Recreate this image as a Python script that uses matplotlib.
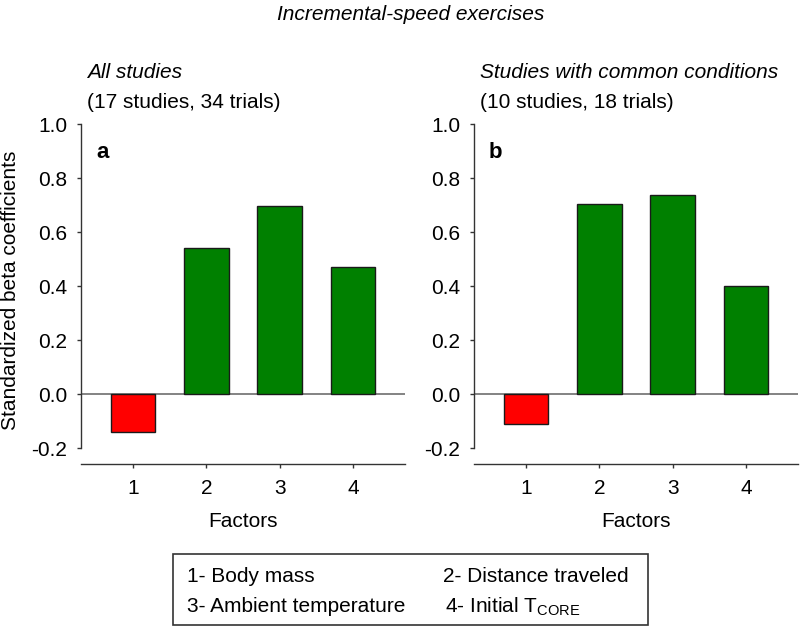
import matplotlib
matplotlib.use('Agg')
import matplotlib.pyplot as plt
from matplotlib.patches import Rectangle
from matplotlib.ticker import FormatStrFormatter

plt.rcParams['font.family'] = ['Liberation Sans', 'DejaVu Sans']
plt.rcParams['mathtext.default'] = 'regular'
plt.rcParams['axes.unicode_minus'] = False

# ---------- data ----------
factors = [1, 2, 3, 4]
beta_all = [-0.142, 0.542, 0.695, 0.471]      # all studies
beta_common = [-0.112, 0.704, 0.736, 0.401]   # studies with common conditions
bar_colors = ['#ff0000', '#008000', '#008000', '#008000']
yticks = [-0.2, 0.0, 0.2, 0.4, 0.6, 0.8, 1.0]

panels = [
    ('a', 'All studies', '(17 studies, 34 trials)', beta_all),
    ('b', 'Studies with common conditions', '(10 studies, 18 trials)', beta_common),
]
legend_items = [
    '1- Body mass', '2- Distance traveled',
    '3- Ambient temperature', r'4- Initial T$_{CORE}$',
]

W, H = 800, 627
fig = plt.figure(figsize=(W / 100, H / 100), dpi=100)

fs = 15
spine_col = '#333333'


def px(x, y):
    """pixel (top-left origin) -> figure fraction"""
    return x / W, 1 - y / H


left_px = [81, 474]
for (letter, sub1, sub2, vals), lx in zip(panels, left_px):
    ax = fig.add_axes([lx / W, (H - 448) / H, 324 / W, 324 / H])
    ax.bar(factors, vals, width=0.61, color=bar_colors,
           edgecolor='#1a1a1a', linewidth=1, zorder=3)
    ax.axhline(0, color='#6e6e6e', lw=1.2, zorder=2)
    ax.set_xlim(0.29, 4.71)
    ax.set_ylim(-0.2, 1.0)
    ax.set_yticks(yticks)
    ax.yaxis.set_major_formatter(FormatStrFormatter('%.1f'))
    ax.set_xticks(factors)
    for s in ['top', 'right']:
        ax.spines[s].set_visible(False)
    ax.spines['bottom'].set_position(('outward', 11.5))
    for s in ['left', 'bottom']:
        ax.spines[s].set_color(spine_col)
        ax.spines[s].set_linewidth(1)
    ax.tick_params(axis='both', direction='out', length=3, width=1,
                   color=spine_col, labelsize=fs)
    ax.tick_params(axis='y', pad=7)
    ax.tick_params(axis='x', pad=8)
    ax.set_xlabel('Factors', fontsize=fs, labelpad=10)

    fig.text(*px(lx + 15, 152), letter, fontsize=16, fontweight='bold',
             va='center', ha='left')
    fig.text(*px(lx + 6, 73), sub1, fontsize=fs, style='italic',
             va='center', ha='left')
    fig.text(*px(lx + 6, 102), sub2, fontsize=fs, va='center', ha='left')

fig.text(*px(411, 14), 'Incremental-speed exercises', fontsize=fs,
         style='italic', ha='center', va='center')
fig.text(*px(11, 290), 'Standardized beta coefficients', fontsize=fs,
         rotation=90, ha='center', va='center')

# ---------- legend box ----------
x0, y0 = px(173, 625)
fig.patches.append(Rectangle((x0, y0), 475 / W, 71 / H, transform=fig.transFigure,
                             fill=False, edgecolor='#333333', linewidth=1.2))
pos = [(187, 577), (443, 577), (187, 607), (445, 607)]
for txt, (tx, ty) in zip(legend_items, pos):
    fig.text(*px(tx, ty), txt, fontsize=fs, ha='left', va='center')

fig.savefig('out.png', dpi=100)
